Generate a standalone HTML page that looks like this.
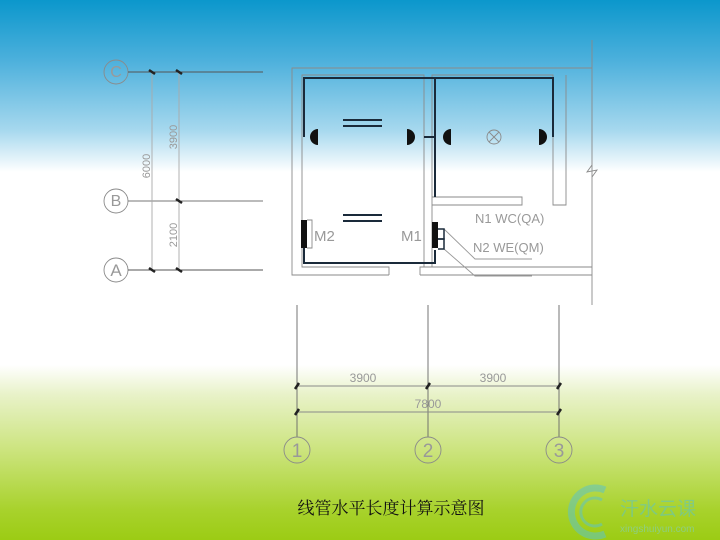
<!DOCTYPE html>
<html><head><meta charset="utf-8"><style>
html,body{margin:0;padding:0;}
body{width:720px;height:540px;overflow:hidden;background:linear-gradient(to bottom,#0b97cc 0px,#4cb0dc 60px,#a6d8ee 130px,#ffffff 172px,#ffffff 365px,#e8f2c8 395px,#cce47e 450px,#a8d22c 510px,#9ccc14 540px);}
svg{position:absolute;left:0;top:0;}
text{font-family:"Liberation Sans Narrow","Liberation Sans",sans-serif;}
</style></head><body>
<svg width="720" height="540" viewBox="0 0 720 540">
<g stroke="#8a8a8a" stroke-width="0.9" fill="none">
<circle cx="116" cy="72" r="12"/><circle cx="116" cy="201" r="12"/><circle cx="116" cy="270" r="12"/>
<line x1="128" y1="72" x2="263" y2="72" stroke="#555"/><line x1="128" y1="201" x2="263" y2="201" stroke="#777"/><line x1="128" y1="270" x2="263" y2="270" stroke="#555"/>
<line x1="152" y1="72" x2="152" y2="270" stroke="#aaa"/><line x1="179" y1="72" x2="179" y2="270" stroke="#aaa"/>
<polyline points="389,275 292,275 292,68 592,68"/>
<polyline points="389,275 389,267 302,267 302,75 424,75 424,267"/>
<polyline points="432,267 432,75 553,75 553,190 553,205 566,205 566,75"/>
<polyline points="420,275 592,275"/><polyline points="420,275 420,267 432,267"/>
<line x1="432" y1="267" x2="592" y2="267"/>
<polyline points="432,197 522,197 522,205 432,205"/>
<line x1="592" y1="40" x2="592" y2="305"/>
<polyline points="592,165 587,172 597,170 592,177"/>
<line x1="297" y1="305" x2="297" y2="437" stroke="#666"/><line x1="428" y1="305" x2="428" y2="437" stroke="#666"/><line x1="559" y1="305" x2="559" y2="437" stroke="#666"/>
<line x1="297" y1="386" x2="559" y2="386"/><line x1="297" y1="412" x2="559" y2="412"/>
<circle cx="297" cy="450" r="13"/><circle cx="428" cy="450" r="13"/><circle cx="559" cy="450" r="13"/>
<polyline points="444,229 475,259 532,259" stroke="#999"/><polyline points="444,249 475,276 532,276" stroke="#999"/>
<polyline points="307,220 312,220 312,248 307,248"/>
<circle cx="494" cy="137" r="7"/><line x1="489" y1="132" x2="499" y2="142"/><line x1="499" y1="132" x2="489" y2="142"/>
</g>
<g stroke="#222" stroke-width="2.5">
<line x1="149" y1="70" x2="155" y2="74"/><line x1="176" y1="70" x2="182" y2="74"/><line x1="176" y1="199" x2="182" y2="203"/><line x1="149" y1="268" x2="155" y2="272"/><line x1="176" y1="268" x2="182" y2="272"/>
<line x1="295" y1="389" x2="299" y2="383"/><line x1="426" y1="389" x2="430" y2="383"/><line x1="557" y1="389" x2="561" y2="383"/>
<line x1="295" y1="415" x2="299" y2="409"/><line x1="557" y1="415" x2="561" y2="409"/>
</g>
<g stroke="#1a2a3a" stroke-width="2" fill="none">
<polyline points="304,137 304,78 553,78 553,137"/>
<polyline points="435,78 435,197"/>
<line x1="424" y1="137" x2="435" y2="137"/>
<polyline points="304,248 304,263 435,263 435,250"/>
<polyline points="438,229 444,229 444,239 438,239" stroke-width="1.5"/>
<polyline points="438,239 444,239 444,249 438,249" stroke-width="1.5"/>
<line x1="343" y1="120" x2="382" y2="120"/><line x1="343" y1="126" x2="382" y2="126"/>
<line x1="343" y1="215" x2="382" y2="215"/><line x1="343" y1="221" x2="382" y2="221"/>
</g>
<g fill="#111">
<path d="M318,129 A8,8 0 0 0 318,145 Z"/><path d="M407,129 A8,8 0 0 1 407,145 Z"/>
<path d="M451,129 A8,8 0 0 0 451,145 Z"/><path d="M539,129 A8,8 0 0 1 539,145 Z"/>
<rect x="301" y="220" width="6" height="28"/><rect x="432" y="222" width="6" height="26"/>
</g>
<g fill="#999" font-size="12">
<text x="116" y="77" text-anchor="middle" font-size="16">C</text>
<text x="116" y="206" text-anchor="middle" font-size="16">B</text>
<text x="116" y="276" text-anchor="middle" font-size="17">A</text>
<text x="297" y="457" text-anchor="middle" font-size="19">1</text>
<text x="428" y="457" text-anchor="middle" font-size="19">2</text>
<text x="559" y="457" text-anchor="middle" font-size="19">3</text>
<text transform="translate(177,137) rotate(-90)" text-anchor="middle" font-size="11">3900</text>
<text transform="translate(150,166) rotate(-90)" text-anchor="middle" font-size="11">6000</text>
<text transform="translate(177,235) rotate(-90)" text-anchor="middle" font-size="11">2100</text>
<text x="363" y="382" text-anchor="middle" font-size="12">3900</text>
<text x="493" y="382" text-anchor="middle" font-size="12">3900</text>
<text x="428" y="408" text-anchor="middle" font-size="12">7800</text>
<text x="314" y="241" font-size="15">M2</text>
<text x="401" y="241" font-size="15">M1</text>
<text x="475" y="223" font-size="13">N1  WC(QA)</text>
<text x="473" y="252" font-size="13">N2  WE(QM)</text>
</g>
<text x="391" y="514" text-anchor="middle" font-size="17" fill="#111" style="font-family:'Liberation Serif','Noto Serif CJK SC',serif">线管水平长度计算示意图</text>
<g opacity="0.55">
<path d="M605,490 A24,24 0 1 0 605,534" stroke="#5fc4c4" stroke-width="7" fill="none"/>
<path d="M602,500 A14,14 0 1 0 602,524" stroke="#5fc4c4" stroke-width="3" fill="none"/>
<text x="620" y="515" font-size="19" fill="#5fc4c4" style="font-family:'Liberation Sans','Noto Sans CJK SC',sans-serif">汗水云课</text>
<text x="620" y="532" font-size="10" fill="#7fcfcf">xingshuiyun.com</text>
</g>
</svg>
</body></html>
